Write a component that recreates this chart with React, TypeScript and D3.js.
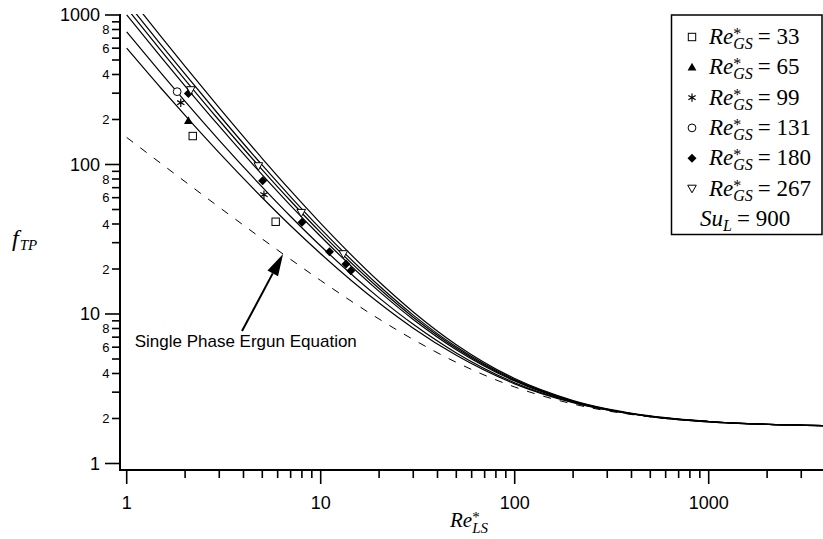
import React from 'react';
import * as d3 from 'd3';

// ---------- data ----------
const reLS = [1, 1.5, 2, 3, 5, 7, 10, 20, 30, 50, 100, 200, 500, 1000, 4000];
const ergunF = [151.75, 101.75, 76.75, 51.75, 31.75, 23.18, 16.75, 9.25, 6.75, 4.75, 3.25, 2.5, 2.05, 1.9, 1.79];
const model33 = [600, 324.9, 212.8, 119.5, 59.9, 38.9, 25.3, 11.84, 8.04, 5.29, 3.41, 2.55, 2.06, 1.9, 1.79];
const model65 = [770, 409.6, 264.4, 145.2, 70.6, 44.9, 28.5, 12.82, 8.53, 5.49, 3.47, 2.57, 2.06, 1.9, 1.79];
const model99 = [1002, 525.1, 334.8, 180.3, 85.2, 53.1, 33.0, 14.17, 9.2, 5.77, 3.56, 2.59, 2.07, 1.91, 1.79];
const model131 = [1112, 579.9, 368.2, 196.9, 92.1, 57.0, 35.0, 14.8, 9.51, 5.9, 3.6, 2.61, 2.07, 1.91, 1.79];
const model180 = [1222, 634.7, 401.6, 213.5, 98.9, 60.8, 37.1, 15.44, 9.83, 6.03, 3.64, 2.62, 2.07, 1.91, 1.79];
const model267 = [1392, 719.3, 453.2, 239.2, 109.6, 66.8, 40.4, 16.42, 10.32, 6.23, 3.7, 2.64, 2.08, 1.91, 1.79];

const exp33Re = [2.19, 5.86];
const exp33F = [155, 41.4];
const exp65Re = [2.08];
const exp65F = [196];
const exp99Re = [1.9, 5.1];
const exp99F = [259, 62.8];
const exp131Re = [1.82];
const exp131F = [307];
const exp180Re = [2.08, 5.02, 8.01, 11.1, 13.5, 14.3];
const exp180F = [299, 78, 41.1, 26.1, 21.6, 19.5];
const exp267Re = [2.14, 4.77, 7.94, 13.1];
const exp267F = [315, 97.7, 47.6, 25.2];

const legendLabels = ['33', '65', '99', '131', '180', '267'];
const legendMarkers = ['square', 'triangle', 'asterisk', 'circle', 'diamond', 'invtriangle'];
const suLabel = '900';

const xMajorTicks = [1, 10, 100, 1000];
const xMajorLabels = ['1', '10', '100', '1000'];
const yMajorTicks = [1, 10, 100, 1000];
const yMajorLabels = ['1', '10', '100', '1000'];
const yMinorLabeled = [2, 4, 6, 8];

const annotationText = 'Single Phase Ergun Equation';
const arrowTip = { re: 6.4, f: 25.2 };
const arrowTail = { re: 3.93, f: 7.7 };
const annotationAnchor = { re: 1.1, f: 6.0 };

// ---------- component ----------
const SERIF = "'Liberation Serif', 'Times New Roman', serif";
const SANS = "'Liberation Sans', Arial, sans-serif";

function Marker({ type, cx, cy }: { type: string; cx: number; cy: number }) {
  const s = 3.7;
  switch (type) {
    case 'square':
      return <rect x={cx - s} y={cy - s} width={2 * s} height={2 * s} fill="white" stroke="black" strokeWidth={1} />;
    case 'triangle':
      return <path d={`M${cx},${cy - 4.6}L${cx + 4.4},${cy + 3.3}L${cx - 4.4},${cy + 3.3}Z`} fill="black" />;
    case 'invtriangle':
      return <path d={`M${cx},${cy + 4.3}L${cx + 4.3},${cy - 3.3}L${cx - 4.3},${cy - 3.3}Z`} fill="white" stroke="black" strokeWidth={1} />;
    case 'circle':
      return <circle cx={cx} cy={cy} r={3.9} fill="white" stroke="black" strokeWidth={1} />;
    case 'diamond':
      return <path d={`M${cx},${cy - 4.5}L${cx + 4.5},${cy}L${cx},${cy + 4.5}L${cx - 4.5},${cy}Z`} fill="black" />;
    case 'asterisk': {
      const r = 4.2;
      const segs = [0, 60, 120].map((a) => {
        const t = (a * Math.PI) / 180 + Math.PI / 2;
        return `M${cx + r * Math.cos(t)},${cy + r * Math.sin(t)}L${cx - r * Math.cos(t)},${cy - r * Math.sin(t)}`;
      });
      return <path d={segs.join('')} stroke="black" strokeWidth={1.2} fill="none" />;
    }
    default:
      return null;
  }
}

export default function App() {
  const W = 823;
  const H = 539;
  const left = 120;
  const bottom = 470;
  const top = 14;

  const x = d3.scaleLog().domain([1, 4000]).range([126.7, 825.5]);
  const y = d3.scaleLog().domain([1, 1000]).range([463.5, 15]);

  const line = d3
    .line<number>()
    .x((_, i) => x(reLS[i]))
    .y((d) => y(d))
    .curve(d3.curveMonotoneX);

  const models = [model33, model65, model99, model131, model180, model267];
  const exps = [
    { re: exp33Re, f: exp33F, m: 'square' },
    { re: exp65Re, f: exp65F, m: 'triangle' },
    { re: exp99Re, f: exp99F, m: 'asterisk' },
    { re: exp131Re, f: exp131F, m: 'circle' },
    { re: exp180Re, f: exp180F, m: 'diamond' },
    { re: exp267Re, f: exp267F, m: 'invtriangle' },
  ];

  const xTicks: { v: number; major: boolean }[] = [];
  xMajorTicks.forEach((d) => {
    for (let m = 1; m <= 9; m++) {
      const v = d * m;
      if (x(v) <= W) xTicks.push({ v, major: m === 1 });
    }
  });
  const yTicks: { v: number; major: boolean }[] = [];
  yMajorTicks.forEach((d) => {
    for (let m = 1; m <= 9; m++) {
      const v = d * m;
      if (v <= 1000) yTicks.push({ v, major: m === 1 });
    }
  });

  // arrow
  const tx = x(arrowTip.re), ty = y(arrowTip.f);
  const sx = x(arrowTail.re), sy = y(arrowTail.f);
  const dx = tx - sx, dy = ty - sy;
  const len = Math.hypot(dx, dy);
  const ux = dx / len, uy = dy / len;
  const hl = 22, hw = 6;
  const bx = tx - ux * hl, by = ty - uy * hl;
  const head = `M${tx},${ty}L${bx + uy * hw},${by - ux * hw}L${bx - uy * hw},${by + ux * hw}Z`;

  return (
    <svg width={W} height={H} style={{ position: 'absolute', left: 0, top: 0, background: 'white' }}>
      <defs>
        <clipPath id="plotclip">
          <rect x={left} y={top} width={W - left} height={bottom - top} />
        </clipPath>
      </defs>
      <rect x={0} y={0} width={W} height={H} fill="white" />

      <g clipPath="url(#plotclip)">
        <path d={line(ergunF) || ''} fill="none" stroke="black" strokeWidth={1} strokeDasharray="8,9" />
        {models.map((m, i) => (
          <path key={i} d={line(m) || ''} fill="none" stroke="black" strokeWidth={1.2} />
        ))}
        {exps.map((e, i) =>
          e.re.map((r, j) => <Marker key={`${i}-${j}`} type={e.m} cx={x(r)} cy={y(e.f[j])} />)
        )}
      </g>

      {/* annotation */}
      <line x1={sx} y1={sy} x2={bx} y2={by} stroke="black" strokeWidth={2} />
      <path d={head} fill="black" />
      <text x={x(annotationAnchor.re)} y={y(annotationAnchor.f)} fontFamily={SANS} fontSize={17}>
        {annotationText}
      </text>

      {/* axes */}
      <line x1={left} y1={top} x2={left} y2={bottom + 1} stroke="black" strokeWidth={2} />
      <line x1={left - 1} y1={bottom} x2={W} y2={bottom} stroke="black" strokeWidth={2} />

      {xTicks.map((t, i) => (
        <line key={i} x1={x(t.v)} x2={x(t.v)} y1={bottom} y2={bottom + (t.major ? 14 : 8)} stroke="black" strokeWidth={1.6} />
      ))}
      {xMajorTicks.map((v, i) => (
        <text key={i} x={x(v)} y={509} textAnchor="middle" fontFamily={SANS} fontSize={18}>
          {xMajorLabels[i]}
        </text>
      ))}

      {yTicks.map((t, i) => (
        <line key={i} x1={left - (t.major ? 15 : 8)} x2={left} y1={y(t.v)} y2={y(t.v)} stroke="black" strokeWidth={1.6} />
      ))}
      {yMajorTicks.map((v, i) => (
        <text key={i} x={100} y={y(v)} dy="0.36em" textAnchor="end" fontFamily={SANS} fontSize={18}>
          {yMajorLabels[i]}
        </text>
      ))}
      {yMajorTicks.slice(0, 3).map((d) =>
        yMinorLabeled.map((m) => (
          <text key={`${d}-${m}`} x={109.5} y={y(d * m)} dy="0.36em" textAnchor="end" fontFamily={SANS} fontSize={13}>
            {String(m)}
          </text>
        ))
      )}

      {/* axis titles */}
      <text x={450} y={527} fontFamily={SERIF} fontSize={21}>
        <tspan fontStyle="italic">Re</tspan>
        <tspan fontSize={15} dy={-5}>*</tspan>
        <tspan fontSize={15} fontStyle="italic" dx={-7.5} dy={11}>LS</tspan>
      </text>
      <text x={12} y={246} fontFamily={SERIF} fontSize={24}>
        <tspan fontStyle="italic">f</tspan>
        <tspan fontSize={15} fontStyle="italic" dx={1} dy={4}>TP</tspan>
      </text>

      {/* legend */}
      <rect x={671.5} y={15} width={150.5} height={219.5} fill="white" stroke="black" strokeWidth={1.5} />
      {legendLabels.map((lab, i) => {
        const cy = 37 + 30.3 * i;
        return (
          <g key={i}>
            <Marker type={legendMarkers[i]} cx={692} cy={cy} />
            <text x={709} y={cy + 7} fontFamily={SERIF} fontSize={23}>
              <tspan fontStyle="italic">Re</tspan>
              <tspan fontSize={16} dy={-5}>*</tspan>
              <tspan fontSize={16} fontStyle="italic" dx={-8} dy={10}>GS</tspan>
              <tspan dx={5} dy={-5}>{'= ' + lab}</tspan>
            </text>
          </g>
        );
      })}
      <text x={700} y={37 + 30.3 * 6 + 7} fontFamily={SERIF} fontSize={23}>
        <tspan fontStyle="italic">Su</tspan>
        <tspan fontSize={16} fontStyle="italic" dy={5}>L</tspan>
        <tspan dx={5} dy={-5}>{'= ' + suLabel}</tspan>
      </text>
    </svg>
  );
}
